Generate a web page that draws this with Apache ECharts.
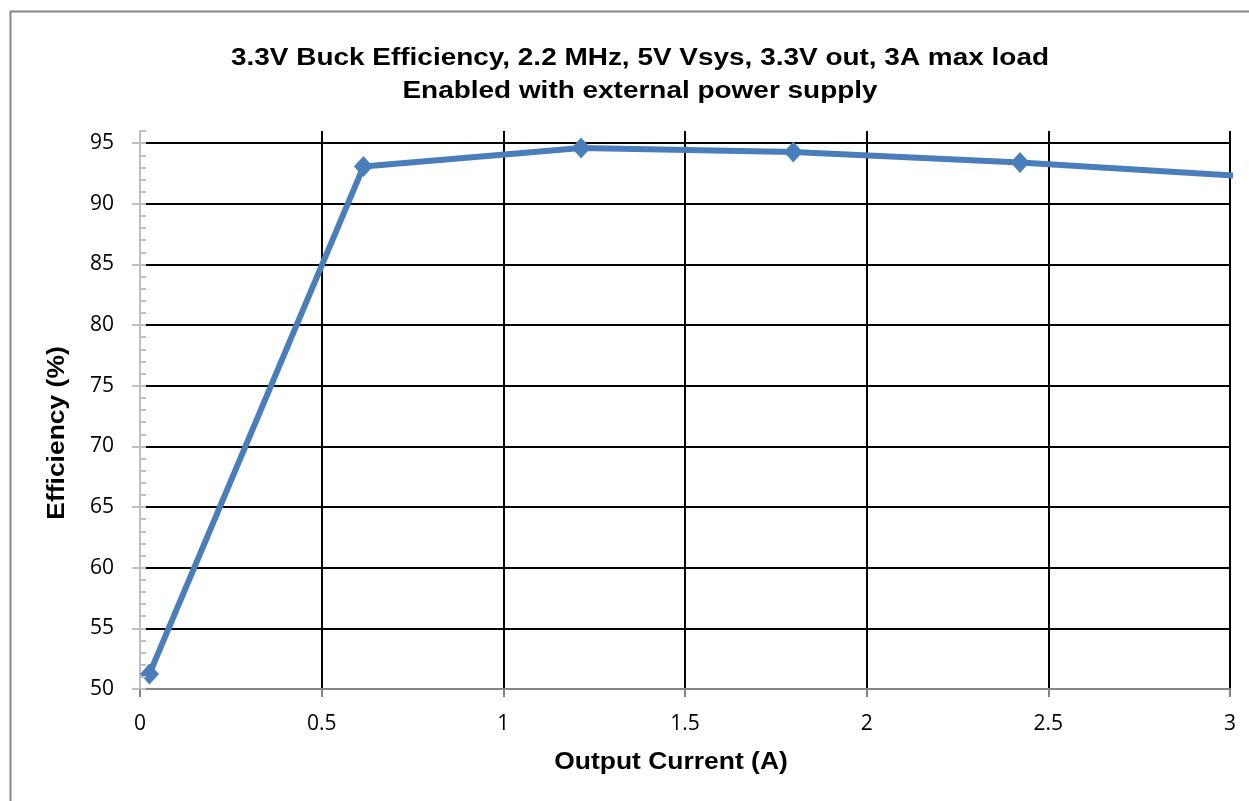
<!DOCTYPE html>
<html>
<head>
<meta charset="utf-8">
<title>3.3V Buck Efficiency</title>
<script src="https://cdn.jsdelivr.net/npm/echarts@6/dist/echarts.min.js"></script>
<style>
  html, body { margin: 0; padding: 0; background: #ffffff; }
  #chart { width: 1249px; height: 801px; }
</style>
</head>
<body>
<div id="chart"></div>
<script>
// Measured buck converter efficiency vs. output current
const titleLines = [
  '3.3V Buck Efficiency, 2.2 MHz, 5V Vsys, 3.3V out, 3A max load',
  'Enabled with external power supply'
];
const xAxisTitle = 'Output Current (A)';
const yAxisTitle = 'Efficiency (%)';

const outputCurrent = [0.026, 0.615, 1.214, 1.798, 2.422, 3.03];
const efficiency    = [51.24, 93.07, 94.59, 94.26, 93.40, 92.30];

const xTicks = { min: 0, max: 3, interval: 0.5 };
const yTicks = { min: 50, max: 96, interval: 5, minorInterval: 1 };

const points = outputCurrent.map((x, i) => [x, efficiency[i]]);

const chart = echarts.init(document.getElementById('chart'), null, { renderer: 'canvas' });

const labelFont = '"Open Sans", sans-serif';
const boldFont = '"Liberation Sans", Arial, sans-serif';

chart.setOption({
  animation: false,
  backgroundColor: '#ffffff',
  grid: { left: 140, right: 19, top: 131, bottom: 112, containLabel: false },
  graphic: [
    {
      type: 'rect', silent: true, z: -10,
      shape: { x: 10.5, y: 11.5, width: 1300, height: 900 },
      style: { fill: 'none', stroke: '#868686', lineWidth: 2 }
    },
    {
      type: 'text', x: 640, y: 42, scaleX: 1.215,
      style: {
        x: 0, y: 0,
        text: titleLines.join('\n'), font: 'bold 23px ' + boldFont,
        fill: '#000', align: 'center', verticalAlign: 'top', lineHeight: 33
      }
    },
    {
      type: 'text', x: 671, y: 763, scaleX: 1.15,
      style: {
        x: 0, y: 0,
        text: xAxisTitle, font: 'bold 23px ' + boldFont, fill: '#000',
        align: 'center', verticalAlign: 'middle'
      }
    },
    {
      type: 'text', x: 58, y: 433, rotation: Math.PI / 2, scaleX: 1.15,
      style: {
        x: 0, y: 0,
        text: yAxisTitle, font: 'bold 23px ' + boldFont, fill: '#000',
        align: 'center', verticalAlign: 'middle'
      }
    }
  ],
  xAxis: {
    type: 'value',
    min: xTicks.min, max: xTicks.max, interval: xTicks.interval,
    axisLine: { show: true, onZero: false, lineStyle: { color: '#868686', width: 2 } },
    axisTick: { show: true, inside: false, length: 8, lineStyle: { color: '#868686', width: 2 } },
    axisLabel: {
      margin: 25, color: '#000', fontSize: 21, fontFamily: labelFont,
      formatter: v => String(v)
    },
    splitLine: { show: true, lineStyle: { color: '#000', width: 2 } }
  },
  yAxis: [
    {
      type: 'value',
      min: yTicks.min, max: yTicks.max, interval: yTicks.interval,
      axisLine: { show: true, onZero: false, lineStyle: { color: '#bfbfbf', width: 2 } },
      axisTick: { show: true, inside: false, length: 8, lineStyle: { color: '#bfbfbf', width: 2 } },
      axisLabel: {
        margin: 26, color: '#000', fontSize: 21, fontFamily: labelFont,
        showMaxLabel: false
      },
      splitLine: { show: true, showMaxLine: false, lineStyle: { color: '#000', width: 2 } }
    },
    {
      // inner tick marks every 1 %
      type: 'value', position: 'left', offset: 0, z: 5,
      min: yTicks.min, max: yTicks.max, interval: yTicks.minorInterval,
      axisLine: { show: false, onZero: false },
      axisTick: { show: true, inside: true, length: 6, lineStyle: { color: '#bfbfbf', width: 2 } },
      axisLabel: { show: false },
      splitLine: { show: false }
    }
  ],
  series: [
    {
      type: 'line',
      data: points,
      yAxisIndex: 0,
      clip: true,
      symbol: 'diamond',
      symbolSize: [19, 21],
      lineStyle: { color: '#4a7ebb', width: 6 },
      itemStyle: { color: '#4a7ebb' },
      emphasis: { disabled: true }
    }
  ]
});
</script>
</body>
</html>
